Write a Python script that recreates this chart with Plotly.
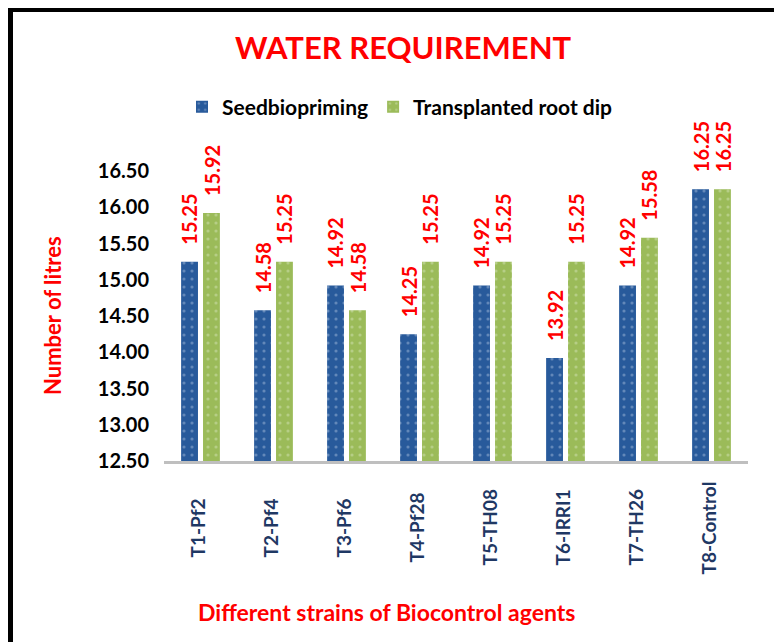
import plotly.graph_objects as go

categories = ["T1-Pf2", "T2-Pf4", "T3-Pf6", "T4-Pf28", "T5-TH08", "T6-IRRI1", "T7-TH26", "T8-Control"]
seedbiopriming = [15.25, 14.58, 14.92, 14.25, 14.92, 13.92, 14.92, 16.25]
transplanted = [15.92, 15.25, 14.58, 15.25, 15.25, 15.25, 15.58, 16.25]
series_names = ["Seedbiopriming", "Transplanted root dip"]
y_ticks = [12.5, 13.0, 13.5, 14.0, 14.5, 15.0, 15.5, 16.0, 16.5]

OFF = 8  # page body margin
SW, SH = 782, 642
PL, PR, PT, PB = 164, 748, 171, 461  # plot area in screen px
W, H = SW - OFF, SH - OFF
L, R, T, B = PL - OFF, SW - PR, PT - OFF, SH - PB
PW, PH = PR - PL, PB - PT

def px_x(px):
    return (px - PL) / PW

def px_y(py):
    return (PB - py) / PH

FONT = "Lato, 'Open Sans', sans-serif"
BLUE = "#285A9B"
GREEN = "#9BBB59"

fig = go.Figure()
fig.add_trace(go.Bar(
    x=categories, y=seedbiopriming, name=series_names[0],
    marker=dict(color=BLUE, line=dict(width=0),
                pattern=dict(shape=".", bgcolor=BLUE, fgcolor="#9DB5D8", size=8, solidity=0.12)),
))
fig.add_trace(go.Bar(
    x=categories, y=transplanted, name=series_names[1],
    marker=dict(color=GREEN, line=dict(width=0),
                pattern=dict(shape=".", bgcolor=GREEN, fgcolor="#D2E2B4", size=8, solidity=0.12)),
))

annotations = []
for vals, shift in ((seedbiopriming, -11), (transplanted, 11)):
    for c, v in zip(categories, vals):
        annotations.append(dict(
            x=c, y=v, xref="x", yref="y", text=f"{v:.2f}", showarrow=False,
            textangle=-90, xanchor="center", yanchor="bottom", xshift=shift, yshift=15,
            font=dict(family=FONT, size=20, color="#FF0000", weight="bold"),
        ))

# category labels, centred below the axis
for c in categories:
    annotations.append(dict(
        x=c, y=px_y(528), xref="x", yref="paper", text=c, showarrow=False,
        textangle=-90, xanchor="center", yanchor="middle", xshift=-4,
        font=dict(family=FONT, size=19, color="#1F3864", weight="bold"),
    ))

annotations.append(dict(
    x=px_x(52), y=px_y(316), xref="paper", yref="paper", text="Number of litres",
    showarrow=False, textangle=-90, xanchor="center", yanchor="middle",
    font=dict(family=FONT, size=22, color="#FF0000", weight="bold"),
))
annotations.append(dict(
    x=px_x(386), y=px_y(612), xref="paper", yref="paper",
    text="Different strains of Biocontrol agents",
    showarrow=False, xanchor="center", yanchor="middle",
    font=dict(family=FONT, size=23, color="#FF0000", weight="bold"),
))

fig.update_layout(
    width=W, height=H,
    margin=dict(l=L, r=R, t=T, b=B, autoexpand=False),
    paper_bgcolor="white", plot_bgcolor="white",
    barmode="group", bargap=0.4, bargroupgap=0.23,
    title=dict(text="WATER REQUIREMENT", x=(403 - OFF) / W, y=1 - (48 - OFF) / H,
               xanchor="center", yanchor="middle", xref="container", yref="container",
               font=dict(family=FONT, size=31, color="#FF0000", weight="bold")),
    legend=dict(orientation="h", x=px_x(400), y=px_y(107), xanchor="center", yanchor="middle",
                font=dict(family=FONT, size=21, color="#000000", weight="bold"),
                bgcolor="rgba(0,0,0,0)", itemwidth=30, traceorder="normal"),
    xaxis=dict(showgrid=False, showline=True, linecolor="#BFBFBF", linewidth=3,
               ticks="", showticklabels=False),
    yaxis=dict(range=[12.5, 16.5], tickvals=y_ticks, ticktext=[f"{v:.2f}" for v in y_ticks],
               showgrid=False, showline=False, zeroline=False, ticks="", ticklabelstandoff=14,
               tickfont=dict(family=FONT, size=20, color="#000000", weight="bold")),
    annotations=annotations,
    shapes=[dict(type="rect", xref="paper", yref="paper",
                 x0=px_x(10.5), x1=px_x(800), y0=px_y(660), y1=px_y(9.5),
                 line=dict(color="black", width=5), fillcolor="rgba(0,0,0,0)", layer="above")],
)

fig.write_html("out.html")
